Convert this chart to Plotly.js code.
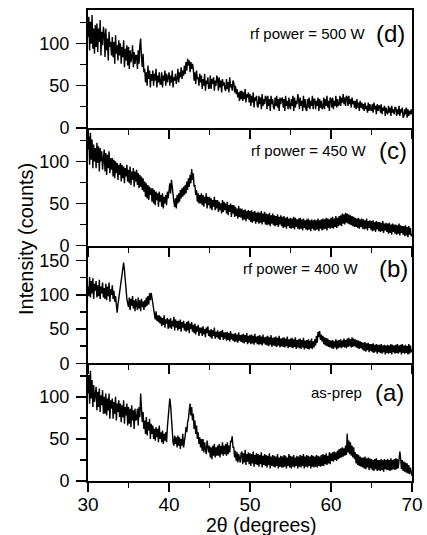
<!DOCTYPE html>
<html>
<head>
<meta charset="utf-8">
<script src="https://cdn.plot.ly/plotly-3.0.1.min.js"></script>
<style>html,body{margin:0;padding:0;background:#fff;}#chart{width:427px;height:535px;}</style>
</head>
<body>
<div id="chart"></div>
<script>
// 2-theta sampling grid: 30 to 70 degrees, step 0.1
const thetaStart = 30, thetaStep = 0.1, nPoints = 401;
const twoTheta = [];
for (let i = 0; i < nPoints; i++) twoTheta.push(+(thetaStart + thetaStep * i).toFixed(1));

// (a) as-prep  (10 values per degree, 30.0 ... 70.0)
const yA = [
104,126,92,131,98,120,88,114,94,108,
112,84,106,88,110,82,102,90,108,80,
100,80,104,78,98,84,104,74,96,86,
98,74,94,80,100,72,92,82,96,76,
92,70,90,76,96,68,88,78,92,66,
88,68,86,64,90,72,84,62,86,72,
74,86,66,88,76,104,90,70,82,62,
72,56,76,54,70,60,74,50,68,56,
66,50,62,48,64,52,62,46,66,50,
58,46,60,44,56,48,58,46,64,74,
88,98,90,70,56,46,42,54,44,52,
40,54,42,52,38,50,42,56,40,52,
54,64,58,70,74,84,92,78,88,72,
80,62,72,56,66,50,58,44,52,40,
50,36,50,34,46,38,32,48,36,34,
42,28,40,26,42,30,44,28,40,30,
42,30,44,28,42,32,46,30,42,32,
44,30,46,32,42,34,48,46,53,40,
40,28,36,24,34,22,32,25,22,33,
35,20,33,22,37,19,32,23,34,20,
33,18,32,21,35,17,31,20,33,19,
32,17,31,20,34,16,30,19,32,18,
31,16,30,19,33,15,29,18,31,17,
30,16,29,18,32,15,28,17,30,16,
29,16,31,17,30,15,28,18,32,16,
30,15,29,17,31,16,28,18,30,15,
29,17,31,16,30,18,32,15,29,17,
31,16,30,18,29,15,31,17,30,16,
29,17,31,16,30,18,29,17,31,18,
32,18,31,20,33,19,30,21,34,20,
33,24,34,23,35,25,34,24,36,26,
38,27,39,28,40,29,39,30,42,31,
56,34,48,32,46,30,42,28,40,26,
34,21,32,19,31,18,29,17,28,16,
28,15,29,14,27,16,28,13,27,15,
26,13,25,12,26,14,27,12,25,13,
25,12,26,13,25,11,26,14,25,13,
26,13,25,12,27,13,25,14,26,13,
27,14,26,15,28,35,26,14,25,12,
23,11,22,10,21,9,19,8,16,7,
6];

// (b) rf power = 400 W
const yB = [
112,98,126,96,120,102,124,94,116,106,
120,96,114,98,122,94,112,102,118,96,
110,94,116,92,112,98,118,90,108,100,
114,94,106,90,98,80,74,86,96,102,
108,118,130,140,147,136,120,104,94,88,
82,96,78,94,84,98,80,92,76,94,
88,78,96,80,92,76,94,82,90,78,
92,82,96,84,98,86,102,92,103,94,
86,74,72,64,76,62,70,60,70,58,
68,54,66,56,70,52,64,58,66,50,
64,52,66,50,62,54,68,48,64,52,
62,48,62,50,64,46,60,52,62,48,
58,46,60,48,62,44,58,50,60,46,
56,44,58,42,54,46,56,40,52,44,
52,40,54,42,50,38,52,44,54,40,
48,38,50,36,48,40,52,36,46,38,
48,36,46,34,47,38,49,34,45,36,
45,33,46,34,44,32,47,35,43,33,
43,31,44,32,42,30,45,33,41,31,
42,30,43,29,41,31,44,28,40,30,
41,28,42,29,40,27,43,30,39,28,
40,27,41,28,39,26,42,29,38,27,
39,26,40,25,38,27,41,24,37,26,
38,25,39,24,37,26,40,23,36,25,
37,24,38,23,36,25,39,22,35,24,
36,23,37,22,35,24,38,21,34,23,
35,22,36,21,34,23,37,20,33,22,
34,21,35,20,33,22,36,21,32,23,
35,26,40,30,46,38,47,34,42,32,
40,28,38,26,37,25,36,24,34,23,
33,22,34,21,32,23,35,20,33,22,
34,23,35,22,33,24,36,23,34,22,
36,24,37,25,35,23,38,24,36,25,
35,23,34,22,33,21,32,22,31,20,
30,18,31,17,29,19,30,16,28,18,
28,16,29,15,27,17,28,14,27,16,
27,15,28,14,26,16,27,13,26,15,
27,14,26,15,28,13,27,16,26,14,
27,15,28,14,26,16,27,13,28,15,
26,14,27,15,25,13,28,14,26,16,
20];

// (c) rf power = 450 W
const yC = [
114,130,96,134,102,126,92,120,100,116,
92,122,98,118,88,116,100,112,90,110,
114,88,110,84,108,92,112,86,104,90,
104,82,102,80,100,86,98,78,96,84,
98,76,96,80,94,74,92,82,96,76,
90,74,94,72,88,78,92,70,88,76,
90,72,86,68,84,70,82,66,80,64,
76,58,74,56,72,54,70,60,68,52,
68,50,66,48,64,54,62,46,64,52,
60,46,62,44,58,50,60,48,64,56,
68,74,62,78,70,58,52,46,56,44,
60,50,62,52,66,56,68,58,70,60,
72,62,76,66,80,70,84,74,91,78,
86,70,72,60,66,52,62,50,60,50,
62,48,60,46,58,50,62,44,58,48,
58,44,56,42,54,46,58,42,54,44,
54,40,52,42,50,38,54,40,52,42,
50,38,52,36,48,40,50,34,48,38,
48,34,46,35,44,32,47,34,44,33,
44,30,42,31,43,29,41,32,42,30,
41,28,42,27,40,29,41,26,39,28,
40,26,39,27,41,25,38,28,40,25,
38,24,37,25,39,23,36,26,38,24,
36,23,35,24,37,22,34,25,36,23,
34,21,35,22,33,20,34,23,32,21,
33,20,32,21,34,19,33,22,31,20,
32,19,33,20,31,18,32,21,30,19,
31,18,32,19,30,17,31,20,30,18,
31,18,30,19,32,17,30,20,31,18,
32,19,31,20,33,18,32,21,31,20,
33,21,34,20,32,22,35,21,33,23,
35,24,36,23,38,26,37,25,39,27,
38,26,37,25,36,24,35,23,34,22,
33,22,32,21,33,20,31,22,32,20,
31,19,30,20,32,18,29,21,30,19,
29,17,30,18,28,16,29,19,28,17,
28,16,27,17,29,15,26,18,27,16,
26,14,27,15,25,13,26,16,25,14,
25,13,24,14,26,12,24,15,23,13,
23,11,24,12,22,10,23,13,21,11,
14];

// (d) rf power = 500 W
const yD = [
108,132,92,126,100,134,94,118,88,122,
96,124,90,118,102,128,86,114,98,120,
112,84,118,92,106,80,114,96,102,86,
108,84,102,76,110,88,98,80,104,86,
100,76,96,84,104,72,94,80,98,74,
96,70,92,78,84,98,72,90,76,86,
86,70,92,76,98,106,84,72,88,66,
70,54,66,50,74,58,68,48,64,56,
68,50,64,56,70,48,62,54,66,52,
52,66,48,62,56,68,50,64,54,60,
66,50,62,54,68,48,60,56,64,52,
58,70,54,66,60,72,58,68,62,74,
64,78,68,82,74,80,66,78,70,76,
70,56,66,52,68,58,60,50,64,54,
62,46,58,50,64,44,56,52,60,46,
48,62,46,58,52,60,44,56,50,62,
58,44,60,48,56,42,58,50,54,46,
44,58,46,54,42,60,48,52,44,56,
54,42,50,40,46,36,42,32,44,34,
44,32,42,34,46,30,40,36,42,30,
40,26,38,30,42,24,36,32,38,26,
24,38,28,36,22,40,26,34,28,38,
36,22,38,26,34,20,38,28,34,24,
22,36,26,38,24,34,20,36,28,34,
36,24,34,20,38,26,32,22,36,26,
22,34,26,38,20,36,24,32,28,40,
34,22,36,26,32,20,38,24,34,22,
20,34,24,36,22,32,26,38,22,34,
34,22,32,26,36,20,34,24,32,22,
24,36,22,34,26,38,24,32,20,36,
34,24,36,22,32,26,38,24,34,26,
28,38,26,36,30,40,28,36,26,38,
36,26,38,28,34,24,36,28,32,24,
32,22,34,24,30,20,32,24,30,22,
28,20,30,22,26,18,30,20,28,22,
20,28,18,30,22,26,16,28,20,26,
26,18,28,16,24,20,26,14,24,18,
16,26,18,24,14,26,18,22,16,24,
24,14,22,16,26,14,22,18,24,12,
14,22,16,24,12,22,14,20,16,22,
16];

const panelSeries = [yA, yB, yC, yD];
const panelYMax = [140, 172, 140, 140];
const panelLabels = ['as-prep', 'rf power = 400 W', 'rf power = 450 W', 'rf power = 500 W'];
const panelLetters = ['(a)', '(b)', '(c)', '(d)'];
const xTitle = '2\u03B8 (degrees)';
const yTitle = 'Intensity (counts)';

const FONT = 'Liberation Sans, Arial, Helvetica, sans-serif';
const W = 427, H = 535;
const L = 88, R = 15, T = 10, B = 54;
const px2x = px => (px - L) / (W - L - R);
const py2y = py => (H - B - py) / (H - T - B);

const traces = panelSeries.map((ys, i) => ({
  x: twoTheta, y: ys, type: 'scatter', mode: 'lines',
  line: {color: '#000', width: 1.4},
  xaxis: i === 0 ? 'x' : 'x' + (i + 1),
  yaxis: i === 0 ? 'y' : 'y' + (i + 1),
  hoverinfo: 'skip', showlegend: false
}));

const layout = {
  width: W, height: H,
  margin: {l: L, r: R, t: T, b: B, pad: 0},
  paper_bgcolor: '#fff', plot_bgcolor: '#fff',
  font: {family: FONT, color: '#000', size: 18},
  showlegend: false,
  annotations: []
};

for (let i = 0; i < 4; i++) {
  const xk = i === 0 ? 'xaxis' : 'xaxis' + (i + 1);
  const yk = i === 0 ? 'yaxis' : 'yaxis' + (i + 1);
  layout[xk] = {
    domain: [0, 1], range: [30, 70], anchor: i === 0 ? 'y' : 'y' + (i + 1),
    showline: true, mirror: i === 3, linecolor: '#000', linewidth: 2,
    ticks: 'outside', ticklen: 9, tickwidth: 1.5, tickcolor: '#000',
    tick0: 30, dtick: 10, showgrid: false, zeroline: false,
    showticklabels: i === 0, ticklabelstandoff: -4,
    tickfont: {family: FONT, size: 19, color: '#000'},
    minor: {dtick: 5, tick0: 30, ticks: 'outside', ticklen: 5, tickwidth: 1.5, tickcolor: '#000', showgrid: false},
    fixedrange: true
  };
  if (i > 0) layout[xk].matches = 'x';
  layout[yk] = {
    domain: [i * 0.25, (i + 1) * 0.25], range: [0, panelYMax[i]],
    anchor: i === 0 ? 'x' : 'x' + (i + 1),
    showline: true, mirror: true, linecolor: '#000', linewidth: 2,
    ticks: 'outside', ticklen: 10, tickwidth: 1.5, tickcolor: '#000',
    tick0: 0, dtick: 50, showgrid: false, zeroline: false,
    ticklabelstandoff: 3,
    tickfont: {family: FONT, size: 18, color: '#000'},
    minor: {dtick: 25, tick0: 0, ticks: 'outside', ticklen: 6, tickwidth: 1.5, tickcolor: '#000', showgrid: false},
    fixedrange: true
  };
}

// panel label positions (pixel centres)
const labelY = [392, 268, 150, 34];
const labelRight = [364, 360, 368, 367];
const letterLeft = [373, 377, 377, 374];
for (let i = 0; i < 4; i++) {
  layout.annotations.push({
    xref: 'paper', yref: 'paper', x: px2x(labelRight[i]), y: py2y(labelY[i]),
    xanchor: 'right', yanchor: 'middle', showarrow: false,
    text: panelLabels[i], font: {family: FONT, size: 15, color: '#000'}
  });
  layout.annotations.push({
    xref: 'paper', yref: 'paper', x: px2x(letterLeft[i]), y: py2y(labelY[i]),
    xanchor: 'left', yanchor: 'middle', showarrow: false,
    text: panelLetters[i], font: {family: FONT, size: 24, color: '#000'}
  });
}
layout.annotations.push({
  xref: 'paper', yref: 'paper', x: px2x(261), y: py2y(525),
  xanchor: 'center', yanchor: 'middle', showarrow: false,
  text: xTitle, font: {family: FONT, size: 19.5, color: '#000'}
});
layout.annotations.push({
  xref: 'paper', yref: 'paper', x: px2x(26), y: py2y(239),
  xanchor: 'center', yanchor: 'middle', showarrow: false, textangle: -90,
  text: yTitle, font: {family: FONT, size: 20, color: '#000'}
});

Plotly.newPlot('chart', traces, layout, {staticPlot: true, displayModeBar: false});
</script>
</body>
</html>
